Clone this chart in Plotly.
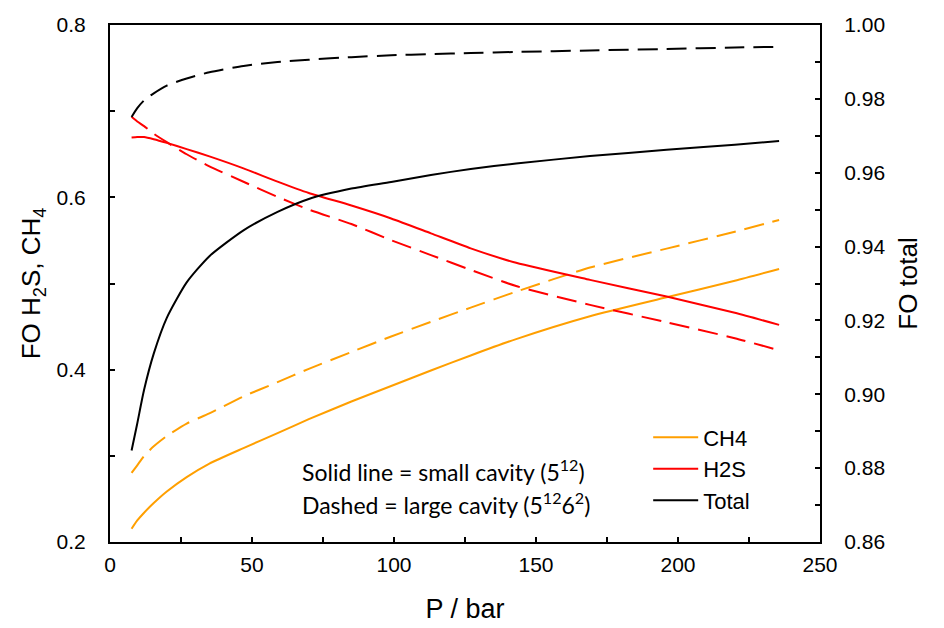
import plotly.graph_objects as go

# Pressure grid (bar)
pressure = [7.6, 9.6, 12, 15.4, 20, 27, 35, 47, 59, 70, 85, 99, 113, 127, 143, 169, 196, 220, 235.6]

# Fractional occupancy, small cavity (5^12)
ch4_small = [0.2153, 0.2250, 0.2340, 0.2452, 0.2586, 0.2753, 0.2910, 0.3090, 0.3264, 0.3425,
             0.3630, 0.3810, 0.3990, 0.4165, 0.4355, 0.4620, 0.4840, 0.5032, 0.5169]
h2s_small = [0.6695, 0.6700, 0.6700, 0.6675, 0.6632, 0.6560, 0.6475, 0.6336, 0.6182, 0.6050,
             0.5905, 0.5755, 0.5582, 0.5408, 0.5240, 0.5042, 0.4848, 0.4660, 0.4520]
total_small = [0.8848, 0.8921, 0.9012, 0.9110, 0.9207, 0.9303, 0.9374, 0.9444, 0.9494, 0.9529,
               0.9557, 0.9575, 0.9594, 0.9610, 0.9625, 0.9645, 0.9662, 0.9676, 0.9686]

# Fractional occupancy, large cavity (5^12 6^2)
ch4_large = [0.2802, 0.2890, 0.2998, 0.3110, 0.3230, 0.3375, 0.3492, 0.3690, 0.3855, 0.4010,
             0.4205, 0.4385, 0.4555, 0.4720, 0.4905, 0.5185, 0.5405, 0.5600, 0.5737]
h2s_large = [0.6934, 0.6880, 0.6826, 0.6738, 0.6640, 0.6500, 0.6360, 0.6181, 0.6005, 0.5858,
             0.5690, 0.5503, 0.5330, 0.5158, 0.4970, 0.4752, 0.4550, 0.4365, 0.4225]
total_large = [0.9751, 0.9775, 0.9796, 0.9815, 0.9836, 0.9855, 0.9872, 0.9889, 0.9900, 0.9906,
               0.9913, 0.9918, 0.9921, 0.9924, 0.9927, 0.9931, 0.9935, 0.9939, 0.9941]

ORANGE = "#FF9F00"
RED = "#FF0000"
BLACK = "#000000"
DASH = "20px,9px"

fig = go.Figure()

series = [
    ("CH4", ch4_small, ch4_large, ORANGE, "y"),
    ("H2S", h2s_small, h2s_large, RED, "y"),
    ("Total", total_small, total_large, BLACK, "y2"),
]

for name, small, large, color, axis in series:
    fig.add_trace(go.Scatter(
        x=pressure, y=large, mode="lines", yaxis=axis, showlegend=False,
        line=dict(color=color, width=2, dash=DASH, shape="spline", smoothing=0.6),
    ))
    fig.add_trace(go.Scatter(
        x=pressure, y=small, mode="lines", yaxis=axis, name=name, legendgroup=name,
        line=dict(color=color, width=2, shape="spline", smoothing=0.6),
    ))

tick_font = dict(family="Liberation Sans, Arial", size=21, color="black")
title_font = dict(family="Liberation Sans, Arial", size=26, color="black")

fig.update_layout(
    width=944, height=628,
    margin=dict(l=110, r=124, t=25, b=86),
    paper_bgcolor="white", plot_bgcolor="white",
    showlegend=True,
    legend=dict(
        x=0.758, y=0.243, xanchor="left", yanchor="top",
        bgcolor="rgba(0,0,0,0)", font=dict(family="Liberation Sans, Arial", size=22, color="black"),
        tracegroupgap=0, itemwidth=45,
    ),
    xaxis=dict(
        range=[0, 250], dtick=50, tick0=0, ticks="inside", ticklen=5, tickwidth=2,
        minor=dict(dtick=25, ticks="inside", ticklen=5, tickwidth=2, tickcolor="black"),
        tickcolor="black", showline=True, linecolor="black", linewidth=2, mirror=True,
        showgrid=False, zeroline=False, tickfont=tick_font, ticklabelstandoff=3,
        automargin=False,
        title=dict(text="P / bar", font=dict(family="Liberation Sans, Arial", size=27, color="black"),
                   standoff=24),
    ),
    yaxis=dict(
        range=[0.2, 0.8], dtick=0.2, tick0=0.2, tickformat=".1f", ticks="inside", ticklen=5,
        tickwidth=2, tickcolor="black",
        minor=dict(dtick=0.1, ticks="inside", ticklen=5, tickwidth=2, tickcolor="black"),
        showline=True, linecolor="black", linewidth=2, automargin=False,
        showgrid=False, zeroline=False, tickfont=tick_font, ticklabelstandoff=18,
        title=dict(text="FO H<sub>2</sub>S, CH<sub>4</sub>", font=title_font, standoff=8),
    ),
    yaxis2=dict(
        range=[0.86, 1.0], dtick=0.02, tick0=0.86, tickformat=".2f", ticks="inside", ticklen=5,
        tickwidth=2, tickcolor="black",
        minor=dict(dtick=0.01, ticks="inside", ticklen=5, tickwidth=2, tickcolor="black"),
        overlaying="y", side="right", showline=True, linecolor="black", linewidth=2,
        automargin=False,
        showgrid=False, zeroline=False, tickfont=tick_font, ticklabelstandoff=18,
        title=dict(text="FO total", font=title_font, standoff=14),
    ),
)

note_font = dict(family="Lato, Open Sans, sans-serif", size=23, color="black")
fig.add_annotation(
    xref="paper", yref="paper", x=0.268, y=0.138, xanchor="left", yanchor="middle",
    text="Solid line = small cavity (5<sup>12</sup>)", showarrow=False, font=note_font,
)
fig.add_annotation(
    xref="paper", yref="paper", x=0.268, y=0.075, xanchor="left", yanchor="middle",
    text="Dashed = large cavity (5<sup>12</sup>6<sup>2</sup>)", showarrow=False, font=note_font,
)

fig.write_html("out.html")
